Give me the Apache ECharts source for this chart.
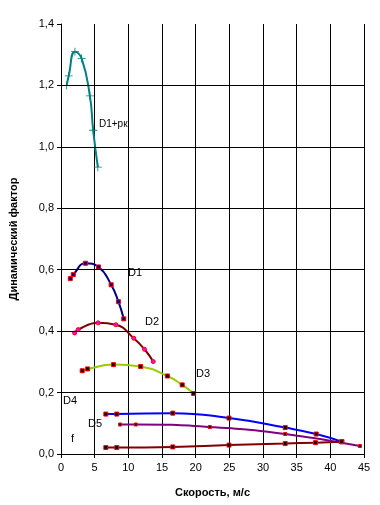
<!DOCTYPE html>
<html><head><meta charset="utf-8">
<script src="https://cdn.jsdelivr.net/npm/echarts@6/dist/echarts.min.js"></script>
<style>html,body{margin:0;padding:0;background:#fff}#c{width:380px;height:505px}</style>
</head><body><div id="c"></div>
<script>
const xTicks = [0,5,10,15,20,25,30,35,40,45];
const yTicks = [0,0.2,0.4,0.6,0.8,1.0,1.2,1.4];
const gridY = [0.2,0.4,0.6,0.8,1.0,1.2];

const d1rkX = [0.84,1.14,2.07,3.06,4.29,4.78,5.47];
const d1rkY = [1.200,1.231,1.310,1.288,1.166,1.054,0.934];

const d1X = [1.38,1.82,3.65,5.57,7.45,8.53,9.32];
const d1Y = [0.571,0.584,0.621,0.609,0.551,0.496,0.440];

const d2X = [2.02,2.56,5.52,8.14,10.8,12.4,13.7];
const d2Y = [0.394,0.405,0.427,0.421,0.377,0.341,0.301];

const d3X = [3.15,3.95,7.8,11.83,15.8,18.0,19.7];
const d3Y = [0.271,0.277,0.291,0.285,0.254,0.225,0.197];

const d4X = [6.66,8.28,16.6,24.95,33.3,37.9,41.7];
const d4Y = [0.130,0.130,0.133,0.117,0.086,0.065,0.040];

const d5X = [8.78,11.1,22.1,33.3,44.4];
const d5Y = [0.096,0.096,0.088,0.065,0.026];

const fX = [6.66,8.28,16.6,24.95,33.3,37.8,41.7];
const fY = [0.021,0.021,0.023,0.029,0.034,0.037,0.040];

const zip = (a,b)=>a.map((v,i)=>[v,b[i]]);
const plus = 'path://M4.5,0H5.5V4.5H10V5.5H5.5V10H4.5V5.5H0V4.5H4.5Z';

function s(name,xs,ys,color,sym,size,fill,border,smooth){
  return {name,type:'line',data:zip(xs,ys),smooth:smooth,z:3,
    lineStyle:{color,width:2},itemStyle:{color:fill,borderColor:border,borderWidth:border?1:0},
    symbol:sym,symbolSize:size,showSymbol:true,animation:false};
}

const chart = echarts.init(document.getElementById('c'),null,{renderer:'canvas'});
const font = 'Arial, "Liberation Sans", sans-serif';
chart.setOption({
  backgroundColor:'#fff',
  animation:false,
  grid:{left:60,right:16,top:24,bottom:51},
  xAxis:{type:'value',min:0,max:45,interval:5,
    name:'Скорость, м/с',nameLocation:'middle',nameGap:33,
    nameTextStyle:{fontFamily:font,fontSize:11,fontWeight:'bold',color:'#000'},
    axisLine:{show:true,lineStyle:{color:'#000',width:1}},
    axisTick:{show:true,inside:false,length:4,lineStyle:{color:'#000'}},
    axisLabel:{fontFamily:font,fontSize:11,color:'#000',margin:8},
    splitLine:{show:true,lineStyle:{color:'#000',width:1}}},
  yAxis:{type:'value',min:0,max:1.4,interval:0.2,
    name:'Динамический фактор',nameLocation:'middle',nameGap:42,
    nameTextStyle:{fontFamily:font,fontSize:11,fontWeight:'bold',color:'#000'},
    axisLine:{show:true,lineStyle:{color:'#000',width:1}},
    axisTick:{show:true,inside:false,length:4,lineStyle:{color:'#000'}},
    axisLabel:{fontFamily:font,fontSize:11,color:'#000',margin:7,
      formatter:v=>v.toFixed(1).replace('.',',')},
    splitLine:{show:false}},
  series:[
    {type:'line',data:[],z:1,silent:true,
      markLine:{silent:true,symbol:['none','none'],label:{show:false},
        lineStyle:{color:'#000',width:1,type:'solid'},
        data:gridY.map(v=>({yAxis:v}))}},
    s('D1+рк',d1rkX,d1rkY,'#008080',plus,8,'#008080',null,true),
    s('D1',d1X,d1Y,'#000080','rect',4,'#000080','#ff0000',true),
    s('D2',d2X,d2Y,'#800000','circle',4,'#ff00ff','#ff0000',true),
    s('D3',d3X,d3Y,'#99cc00','rect',4,'#000000','#ff0000',true),
    s('D4',d4X,d4Y,'#0000ff','rect',4,'#000000','#ff0000',true),
    s('D5',d5X,d5Y,'#800080','rect',3,'#000000','#ff0000',true),
    s('f',fX,fY,'#800000','rect',4,'#000000','#ff0000',true)
  ],
  graphic:[
    {type:'text',left:99,top:119,style:{text:'D1+рк',font:'10px '+font,fill:'#000'}},
    {type:'text',left:128,top:267,style:{text:'D1',font:'11px '+font,fill:'#000'}},
    {type:'text',left:145,top:316,style:{text:'D2',font:'11px '+font,fill:'#000'}},
    {type:'text',left:196,top:368,style:{text:'D3',font:'11px '+font,fill:'#000'}},
    {type:'text',left:63,top:395,style:{text:'D4',font:'11px '+font,fill:'#000'}},
    {type:'text',left:88,top:418,style:{text:'D5',font:'11px '+font,fill:'#000'}},
    {type:'text',left:71,top:433,style:{text:'f',font:'11px '+font,fill:'#000'}}
  ]
});
</script></body></html>
